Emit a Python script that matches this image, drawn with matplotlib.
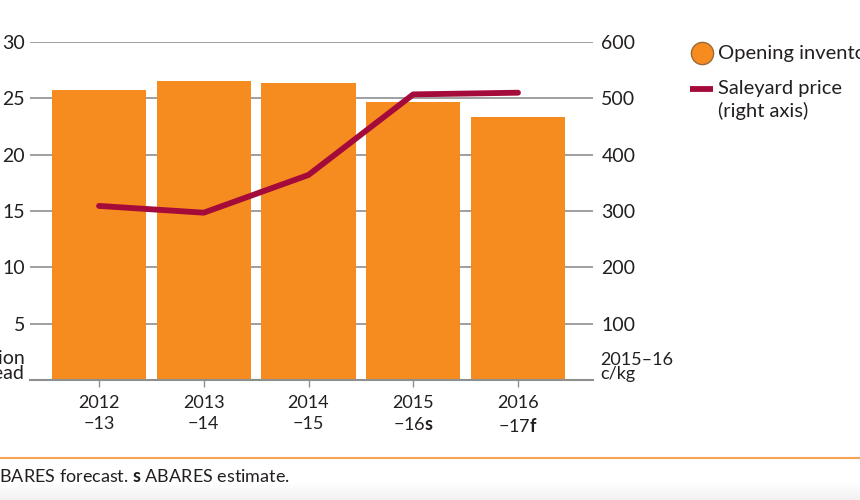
import matplotlib
matplotlib.use('Agg')
import numpy as np
import matplotlib.pyplot as plt
from matplotlib.lines import Line2D

plt.rcParams['font.family'] = ['Lato', 'DejaVu Sans']
plt.rcParams['mathtext.fontset'] = 'custom'
plt.rcParams['mathtext.rm'] = 'Lato'
plt.rcParams['mathtext.bf'] = 'Lato:bold'

# data
years = ['2012\n\u221213', '2013\n\u221214', '2014\n\u221215',
         '2015\n\u221216$\\mathbf{s}$', '2016\n\u221217$\\mathbf{f}$']
inventories = [25.7, 26.5, 26.35, 24.65, 23.35]   # million head (left axis)
price = [309, 297, 364, 507, 510]                 # c/kg, 2015-16 (right axis)
left_ticks = [5, 10, 15, 20, 25, 30]
right_ticks = [100, 200, 300, 400, 500, 600]

orange = '#F68C20'
crimson = '#A50B3A'
grid_grey = '#8f8f8f'
text_col = '#231f20'

W, H = 860, 500
fig = plt.figure(figsize=(8.6, 5), dpi=100)

def fx(px):
    return px / W

def fy(py):
    return 1 - py / H

# faint grey fade at the very bottom
bg = fig.add_axes([0, 0, 1, 18 / H], zorder=-1)
bg.imshow(np.linspace(1.0, 0.945, 50).reshape(-1, 1), cmap='gray', vmin=0, vmax=1,
          aspect='auto', extent=[0, 1, 0, 1])
bg.axis('off')

# axes box in pixels: x 30..593, y 42..380
ax = fig.add_axes([fx(30), fy(380), 563 / W, 338 / H])
x = list(range(len(years)))
ax.bar(x, inventories, width=0.9, color=orange, zorder=2)
ax.set_xlim(-0.659, 4.716)
ax.set_ylim(0, 30)
ax.set_yticks(left_ticks)
ax.set_yticklabels([str(v) for v in left_ticks])
ax.yaxis.grid(True, color=grid_grey, lw=1.2, zorder=1)
ax.set_axisbelow(True)
ax.tick_params(axis='y', length=0, pad=3.5, labelsize=14, labelcolor=text_col)
ax.set_xticks(x)
ax.set_xticklabels(years, fontsize=13, color=text_col, linespacing=1.35)
ax.tick_params(axis='x', length=5, width=1, color=grid_grey, pad=6)
for s in ['top', 'left', 'right']:
    ax.spines[s].set_visible(False)
ax.spines['bottom'].set_color(grid_grey)
ax.spines['bottom'].set_linewidth(1.5)

ax2 = ax.twinx()
ax2.plot(x, price, color=crimson, lw=4.2, solid_capstyle='round', zorder=3)
ax2.set_ylim(0, 600)
ax2.set_yticks(right_ticks)
ax2.set_yticklabels([str(v) for v in right_ticks])
ax2.tick_params(axis='y', length=0, pad=6, labelsize=14, labelcolor=text_col)
for s in ['top', 'left', 'right', 'bottom']:
    ax2.spines[s].set_visible(False)

# unit labels
fig.text(fx(25), fy(366), 'million\nhead', ha='right', va='center',
         fontsize=14, color=text_col, linespacing=0.85)
fig.text(fx(600), fy(367), '2015\u201316\nc/kg', ha='left', va='center',
         fontsize=13, color=text_col, linespacing=0.85)

# legend, drawn by hand so the line key sits on the first text line
fig.add_artist(Line2D([fx(702)], [fy(53)], ls='none', marker='o', markersize=16,
                      markerfacecolor=orange, markeredgecolor='#9a6a3a',
                      markeredgewidth=1, transform=fig.transFigure))
fig.text(fx(718), fy(53), 'Opening inventories', ha='left', va='center',
         fontsize=14.5, color=text_col)
fig.add_artist(Line2D([fx(690), fx(713)], [fy(89), fy(89)], color=crimson, lw=4.2,
                      solid_capstyle='butt', transform=fig.transFigure))
fig.text(fx(718), fy(80), 'Saleyard price\n(right axis)', ha='left', va='top',
         fontsize=14.5, color=text_col, linespacing=1.3)

# footer
fig.add_artist(Line2D([0, 1], [fy(458), fy(458)], color='#F5A257', lw=1.5))
fig.text(fx(-13), fy(482), 'ABARES forecast. $\\mathbf{s}$ ABARES estimate.',
         ha='left', va='baseline', fontsize=13, color=text_col)

fig.savefig('out.png', dpi=100)
